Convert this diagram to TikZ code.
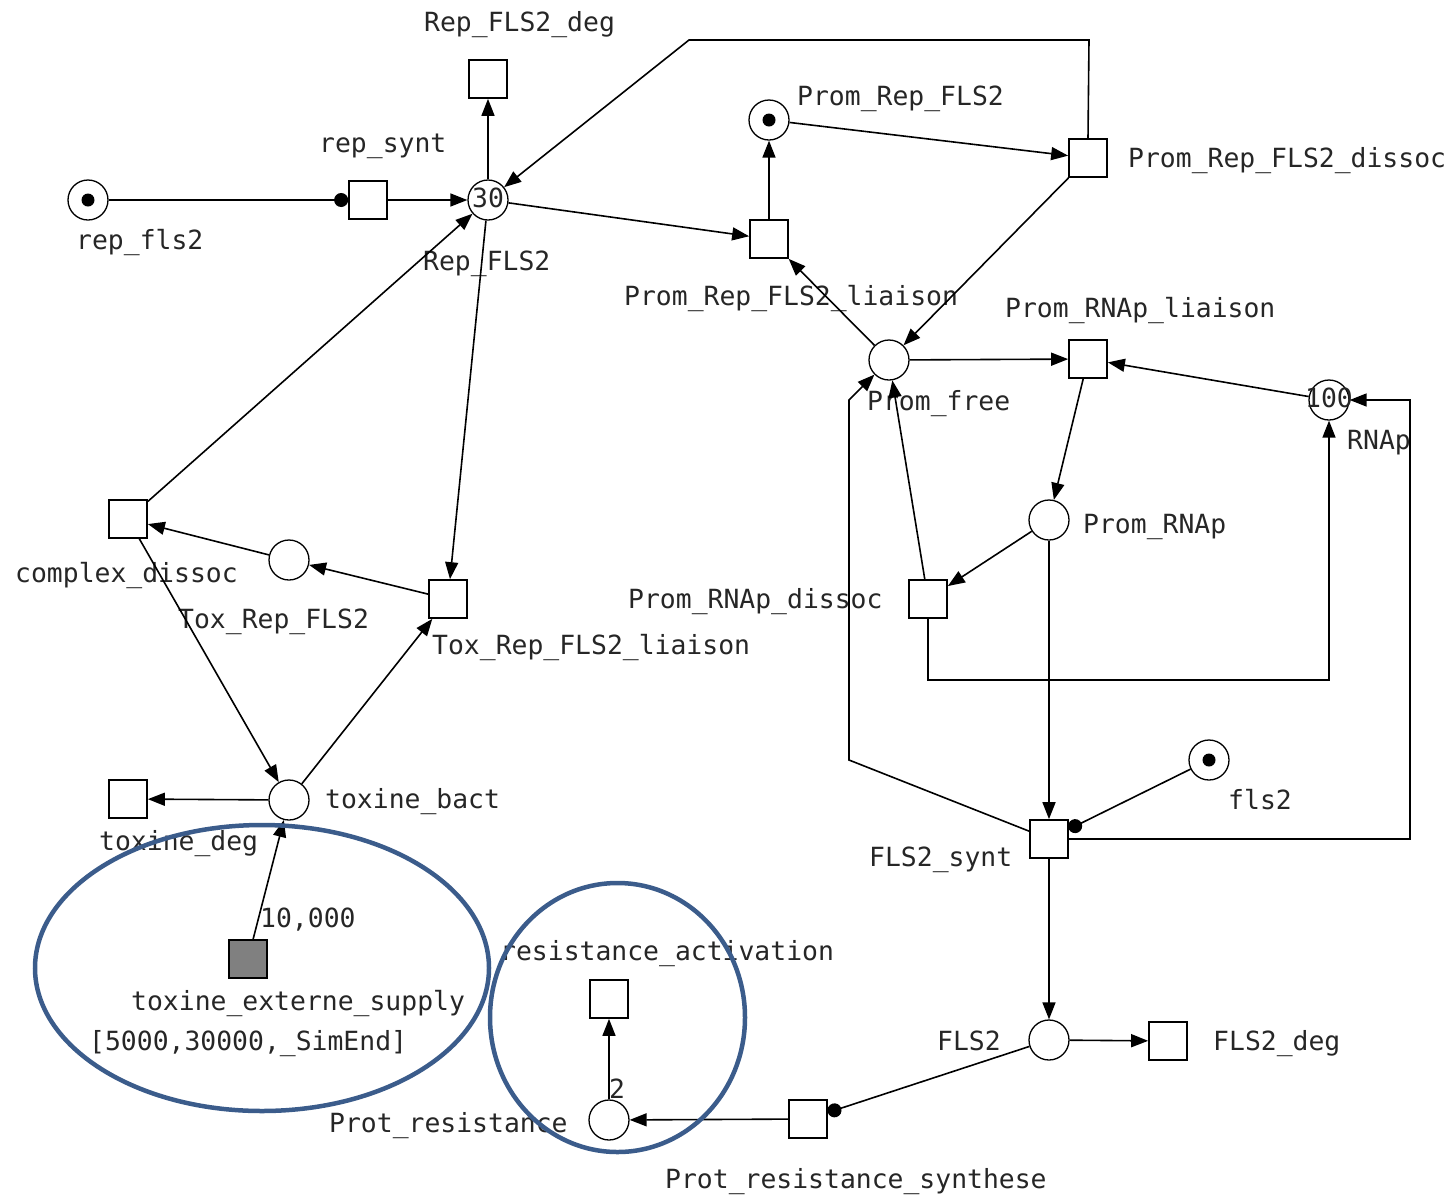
\documentclass[tikz,border=0pt]{standalone}
\usepackage{fontspec}
\newfontfamily\monof{DejaVu Sans Mono}
\usetikzlibrary{arrows.meta}
\definecolor{ellblue}{HTML}{3B5C8B}
\begin{document}
\begin{tikzpicture}[x=1pt,y=-1pt,
  place/.style={circle,draw,line width=1.3pt,minimum size=40pt,inner sep=0pt},
  trans/.style={rectangle,draw,line width=1.7pt,minimum size=38pt,inner sep=0pt},
  tok/.style={circle,fill,minimum size=13pt,inner sep=0pt},
  txt/.style={inner sep=0pt,text=black!85,font=\monof\fontsize{26.4}{30}\selectfont,text height=19pt,text depth=5pt},
  lbl/.style={txt,anchor=west,yshift=-2pt},
  num/.style={txt,anchor=center},
  arc/.style={line width=1.6pt,-{Triangle[length=17pt,width=13pt]}},
  rd/.style={line width=1.6pt,-{Circle[length=14pt]}},
  ell/.style={draw=ellblue,line width=4.5pt}
]
\useasboundingbox (0,0) rectangle (1451,1195);
% places
\node[place] (repfls2) at (88,200) {};
\node[tok] (repfls2t) at (repfls2) {};
\node[place] (RepFLS2) at (488,200) {};
\node[num] (RepFLS2n) at (RepFLS2) {30};
\node[place] (PromRep) at (769,120) {};
\node[tok] (PromRept) at (PromRep) {};
\node[place] (Promfree) at (889,360) {};
\node[place] (RNAp) at (1329,400) {};
\node[num] (RNApn) at (RNAp) {100};
\node[place] (PromRNAp) at (1049,520) {};
\node[place] (ToxRep) at (289,560) {};
\node[place] (toxbact) at (289,800) {};
\node[place] (fls2) at (1209,760) {};
\node[tok] (fls2t) at (fls2) {};
\node[place] (FLS2) at (1049,1040) {};
\node[place] (Protres) at (609,1120) {};
% transitions
\node[trans] (repsynt) at (368,200) {};
\node[trans] (RepFLS2deg) at (488,79) {};
\node[trans] (PRl) at (769,239) {};
\node[trans] (PRd) at (1088,158) {};
\node[trans] (PRNAl) at (1088,359) {};
\node[trans] (PRNAd) at (928,599) {};
\node[trans] (cdiss) at (128,519) {};
\node[trans] (TRl) at (448,599) {};
\node[trans] (toxdeg) at (128,799) {};
\node[trans,fill=black!50] (toxsup) at (248,959) {};
\node[trans] (FLS2s) at (1049,839) {};
\node[trans] (resact) at (609,999) {};
\node[trans] (FLS2deg) at (1168,1041) {};
\node[trans] (Prsyn) at (808,1119) {};
% labels
\node[lbl] (l1) at (424,22) {Rep\_FLS2\_deg};
\node[lbl] (l2) at (319,143) {rep\_synt};
\node[lbl] (l3) at (797,96) {Prom\_Rep\_FLS2};
\node[lbl] (l4) at (1128,158) {Prom\_Rep\_FLS2\_dissoc};
\node[lbl] (l5) at (76,240) {rep\_fls2};
\node[lbl] (l6) at (423,261) {Rep\_FLS2};
\node[lbl] (l7) at (624,296) {Prom\_Rep\_FLS2\_liaison};
\node[lbl] (l8) at (1005,308) {Prom\_RNAp\_liaison};
\node[lbl] (l9) at (867,401) {Prom\_free};
\node[lbl] (l10) at (1347,440) {RNAp};
\node[lbl] (l11) at (1083,524) {Prom\_RNAp};
\node[lbl] (l12) at (15,573) {complex\_dissoc};
\node[lbl] (l13) at (628,599) {Prom\_RNAp\_dissoc};
\node[lbl] (l14) at (178,619) {Tox\_Rep\_FLS2};
\node[lbl] (l15) at (432,645) {Tox\_Rep\_FLS2\_liaison};
\node[lbl] (l16) at (325,799) {toxine\_bact};
\node[lbl] (l17) at (1228,800) {fls2};
\node[lbl] (l18) at (99,841) {toxine\_deg};
\node[lbl] (l19) at (869,857) {FLS2\_synt};
\node[lbl] (l20) at (260,918) {10,000};
\node[lbl] (l21) at (500,951) {resistance\_activation};
\node[lbl] (l22) at (131,1001) {toxine\_externe\_supply};
\node[lbl] (l23) at (89,1041) {[5000,30000,\_SimEnd]};
\node[lbl] (l24) at (937,1041) {FLS2};
\node[lbl] (l25) at (1213,1041) {FLS2\_deg};
\node[lbl] (l26) at (329,1123) {Prot\_resistance};
\node[lbl] (l27) at (665,1179) {Prot\_resistance\_synthese};
\node[num] (l28) at (617,1091) {2};
% helper coordinates
\coordinate (c1) at (1089,40);
\coordinate (c2) at (689,40);
\coordinate (c4) at (1329,680);
\coordinate (c5) at (849,760);
\coordinate (c6) at (849,400);
\coordinate (c7) at (1410,839);
\coordinate (c8) at (1410,400);
% arcs
\draw[rd] (repfls2) -- (repsynt);
\draw[arc] (repsynt) -- (RepFLS2);
\draw[arc] (RepFLS2) -- (RepFLS2deg);
\draw[arc] (RepFLS2) -- (PRl);
\draw[arc] (PRl) -- (PromRep);
\draw[arc] (PromRep) -- (PRd);
\draw[arc] (PRd.north) -- (c1) -- (c2) -- (RepFLS2);
\draw[arc] (PRd) -- (Promfree);
\draw[arc] (Promfree) -- (PRl);
\draw[arc] (Promfree) -- (PRNAl);
\draw[arc] (RNAp) -- (PRNAl);
\draw[arc] (PRNAl) -- (PromRNAp);
\draw[arc] (PromRNAp) -- (PRNAd);
\draw[arc] (PRNAd) -- (Promfree);
\draw[arc] (PRNAd.south) |- (c4) -- (RNAp);
\draw[arc] (PromRNAp) -- (FLS2s);
\draw[rd] (fls2) -- (FLS2s);
\draw[arc] (FLS2s) -- (c5) -- (c6) -- (Promfree);
\draw[arc] (FLS2s.east) -- (c7) -- (c8) -- (RNAp);
\draw[arc] (FLS2s) -- (FLS2);
\draw[arc] (FLS2) -- (FLS2deg);
\draw[rd] (FLS2) -- (Prsyn);
\draw[arc] (Prsyn) -- (Protres);
\draw[arc] (Protres) -- (resact);
\draw[arc] (RepFLS2) -- (TRl);
\draw[arc] (toxbact) -- (TRl);
\draw[arc] (TRl) -- (ToxRep);
\draw[arc] (ToxRep) -- (cdiss);
\draw[arc] (cdiss) -- (RepFLS2);
\draw[arc] (cdiss) -- (toxbact);
\draw[arc] (toxbact) -- (toxdeg);
\draw[arc] (toxsup) -- (toxbact);
% highlight ellipses
\draw[ell] (262,968) ellipse [x radius=227pt, y radius=143pt];
\draw[ell] (617.5,1017.5) ellipse [x radius=127.5pt, y radius=134.5pt];
\end{tikzpicture}
\end{document}
